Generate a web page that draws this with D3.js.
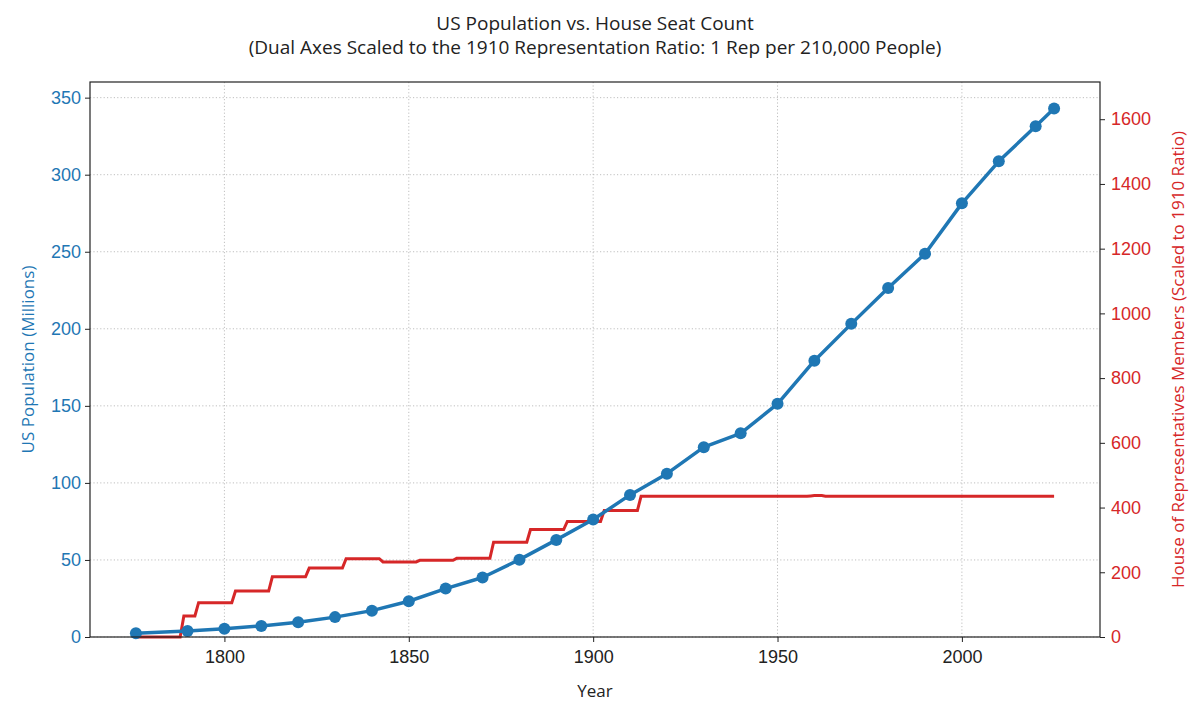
<!DOCTYPE html>
<html>
<head>
<meta charset="utf-8">
<script src="https://cdn.jsdelivr.net/npm/d3@7"></script>
<style>
  html, body { margin: 0; padding: 0; background: #fff; }
  svg { display: block; font-family: "Open Sans", "Lato", sans-serif; }
</style>
</head>
<body>
<svg id="chart" width="1200" height="720"></svg>
<script>
// ---- Data ----
const popYears = [1776, 1790, 1800, 1810, 1820, 1830, 1840, 1850, 1860, 1870, 1880, 1890, 1900,
                  1910, 1920, 1930, 1940, 1950, 1960, 1970, 1980, 1990, 2000, 2010, 2020, 2025];
const popMillions = [2.5, 3.9, 5.3, 7.2, 9.6, 12.9, 17.1, 23.2, 31.4, 38.6, 50.2, 63.0, 76.2,
                     92.2, 106.0, 123.2, 132.2, 151.3, 179.3, 203.2, 226.5, 248.7, 281.4, 308.7, 331.4, 343.0];
const seatYears  = [1776, 1789, 1793, 1803, 1813, 1823, 1833, 1843, 1853, 1863, 1873, 1883, 1893, 1903, 1913, 1959, 1960, 1963, 2025];
const seatCounts = [0,    65,   106,  142,  186,  213,  242,  232,  237,  243,  293,  332,  357,  391,  435,  436,  437,  435,  435];
const peoplePerRep = 210000;
const xTicks = [1800, 1850, 1900, 1950, 2000];
const leftTicks = [0, 50, 100, 150, 200, 250, 300, 350];
const rightTicks = [0, 200, 400, 600, 800, 1000, 1200, 1400, 1600];

const titleLines = ["US Population vs. House Seat Count",
  "(Dual Axes Scaled to the 1910 Representation Ratio: 1 Rep per 210,000 People)"];

// ---- Layout ----
const blue = "#1f77b4", red = "#d62728";
const m = {left: 90, right: 100, top: 82, bottom: 83};
const W = 1200, H = 720;
const iw = W - m.left - m.right, ih = H - m.top - m.bottom;

const svg = d3.select("#chart");
const g = svg.append("g").attr("transform", `translate(${m.left},${m.top})`);

const xMin = d3.min(popYears), xMax = d3.max(popYears);
const xPad = (xMax - xMin) * 0.05;
const x = d3.scaleLinear().domain([xMin - xPad, xMax + xPad]).range([0, iw]);
const leftMax = d3.max(popMillions) * 1.05;
const yL = d3.scaleLinear().domain([0, leftMax]).range([ih, 0]);
const yR = d3.scaleLinear().domain([0, leftMax * 1e6 / peoplePerRep]).range([ih, 0]);

// grid
const grid = g.append("g").attr("stroke", "#b8b8b8").attr("stroke-width", 0.9)
  .attr("stroke-dasharray", "1.2,2.2");
grid.selectAll("line.v").data(xTicks).join("line")
  .attr("x1", d => x(d)).attr("x2", d => x(d)).attr("y1", 0).attr("y2", ih);
grid.selectAll("line.h").data(leftTicks).join("line")
  .attr("x1", 0).attr("x2", iw).attr("y1", d => yL(d)).attr("y2", d => yL(d));

// red step line (seats)
const seatPts = [[seatYears[0], seatCounts[0]]];
for (let i = 1; i < seatYears.length; i++) {
  if (seatCounts[i] !== seatCounts[i - 1]) seatPts.push([seatYears[i] - 1, seatCounts[i - 1]]);
  seatPts.push([seatYears[i], seatCounts[i]]);
}
g.append("path").datum(seatPts)
  .attr("fill", "none").attr("stroke", red).attr("stroke-width", 3)
  .attr("stroke-linejoin", "miter")
  .attr("d", d3.line().x(d => x(d[0])).y(d => yR(d[1])));

// blue population line
const popData = popYears.map((yr, i) => [yr, popMillions[i]]);
g.append("path").datum(popData)
  .attr("fill", "none").attr("stroke", blue).attr("stroke-width", 3.5)
  .attr("stroke-linejoin", "round")
  .attr("d", d3.line().x(d => x(d[0])).y(d => yL(d[1])));
g.selectAll("circle.pop").data(popData).join("circle")
  .attr("class", "pop")
  .attr("cx", d => x(d[0])).attr("cy", d => yL(d[1])).attr("r", 6)
  .attr("fill", blue);

// frame
g.append("rect").attr("x", 0).attr("y", 0).attr("width", iw).attr("height", ih)
  .attr("fill", "none").attr("stroke", "#222").attr("stroke-width", 1.2);

// axes
const fs = 18;
const ax = g.append("g").attr("transform", `translate(0,${ih})`)
  .call(d3.axisBottom(x).tickValues(xTicks).tickFormat(d3.format("d")).tickSize(5).tickPadding(8));
ax.select(".domain").remove();
ax.selectAll("text").attr("font-size", fs).attr("fill", "#222").attr("font-family", null);
ax.selectAll("line").attr("stroke", "#222");

const al = g.append("g")
  .call(d3.axisLeft(yL).tickValues(leftTicks).tickFormat(d3.format("d")).tickSize(5).tickPadding(4));
al.select(".domain").remove();
al.selectAll("text").attr("font-size", fs).attr("fill", blue).attr("font-family", null);
al.selectAll("line").attr("stroke", "#222");

const ar = g.append("g").attr("transform", `translate(${iw},0)`)
  .call(d3.axisRight(yR).tickValues(rightTicks).tickFormat(d3.format("d")).tickSize(5).tickPadding(6));
ar.select(".domain").remove();
ar.selectAll("text").attr("font-size", fs).attr("fill", red).attr("font-family", null);
ar.selectAll("line").attr("stroke", "#222");

// axis labels
svg.append("text").attr("x", m.left + iw / 2).attr("y", 697)
  .attr("text-anchor", "middle").attr("font-size", 17).attr("fill", "#222").text("Year");
svg.append("text").attr("transform", `translate(34,${m.top + ih / 2}) rotate(-90)`)
  .attr("text-anchor", "middle").attr("font-size", 17).attr("fill", blue)
  .text("US Population (Millions)");
svg.append("text").attr("transform", `translate(1184,${m.top + ih / 2}) rotate(-90)`)
  .attr("text-anchor", "middle").attr("font-size", 17).attr("fill", red)
  .text("House of Representatives Members (Scaled to 1910 Ratio)");

// title
svg.append("text").attr("x", m.left + iw / 2).attr("y", 30)
  .attr("text-anchor", "middle").attr("font-size", 19).attr("fill", "#222")
  .selectAll("tspan").data(titleLines).join("tspan")
  .attr("x", m.left + iw / 2).attr("dy", (d, i) => i === 0 ? 0 : 24).text(d => d);
</script>
</body>
</html>
